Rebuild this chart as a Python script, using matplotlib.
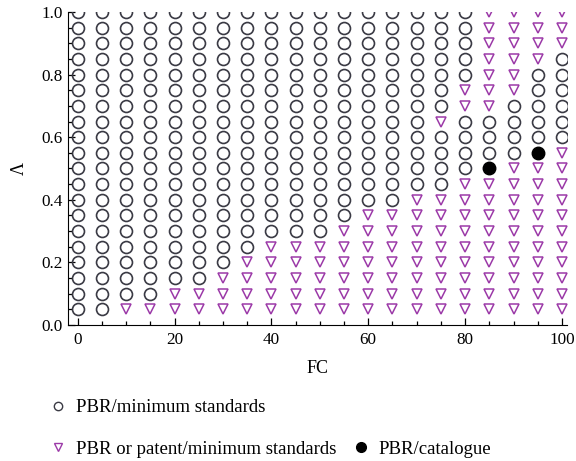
import matplotlib.pyplot as plt
from matplotlib.lines import Line2D
from matplotlib.ticker import MultipleLocator

plt.rcParams['font.family'] = ['Liberation Serif', 'DejaVu Serif']

# grid of cases: FC along x, Lambda along y
fc = [0, 5, 10, 15, 20, 25, 30, 35, 40, 45, 50, 55, 60, 65, 70, 75, 80, 85, 90, 95, 100]
lam = [1.0, 0.95, 0.9, 0.85, 0.8, 0.75, 0.7, 0.65, 0.6, 0.55,
       0.5, 0.45, 0.4, 0.35, 0.3, 0.25, 0.2, 0.15, 0.1, 0.05]

# o = PBR/minimum standards, v = PBR or patent/minimum standards, b = PBR/catalogue
# one row per lambda value (top to bottom), groups of 5 columns separated by |
regime = [
    "ooooo|ooooo|ooooo|oovvv|v",
    "ooooo|ooooo|ooooo|oovvv|v",
    "ooooo|ooooo|ooooo|oovvv|v",
    "ooooo|ooooo|ooooo|oovvv|o",
    "ooooo|ooooo|ooooo|oovvo|o",
    "ooooo|ooooo|ooooo|ovvvo|o",
    "ooooo|ooooo|ooooo|ovvoo|o",
    "ooooo|ooooo|ooooo|voooo|o",
    "ooooo|ooooo|ooooo|ooooo|o",
    "ooooo|ooooo|ooooo|oooob|v",
    "ooooo|ooooo|ooooo|oobvv|v",
    "ooooo|ooooo|ooooo|ovvvv|v",
    "ooooo|ooooo|oooov|vvvvv|v",
    "ooooo|ooooo|oovvv|vvvvv|v",
    "ooooo|ooooo|ovvvv|vvvvv|v",
    "ooooo|ooovv|vvvvv|vvvvv|v",
    "ooooo|oovvv|vvvvv|vvvvv|v",
    "ooooo|ovvvv|vvvvv|vvvvv|v",
    "oooov|vvvvv|vvvvv|vvvvv|v",
    "oovvv|vvvvv|vvvvv|vvvvv|v",
]

pts = {'o': ([], []), 'v': ([], []), 'b': ([], [])}
for y, row in zip(lam, regime):
    row = row.replace('|', '')
    for x, c in zip(fc, row):
        pts[c][0].append(x)
        pts[c][1].append(y)

circ_col = '#3a3a44'
tri_col = '#9c3aa8'

fig = plt.figure(figsize=(5.76, 4.61), dpi=100)
ax = fig.add_axes([0.118, 0.295, 0.866, 0.679])

ax.plot(*pts['o'], 'o', ms=8.6, mfc='none', mec=circ_col, mew=1.2)
ax.plot(*pts['v'], 'v', ms=6.8, mfc='none', mec=tri_col, mew=1.1)
ax.plot(*pts['b'], 'o', ms=9, mfc='black', mec='black')

ax.set_xlim(-2, 101)
ax.set_ylim(0, 1.0)
ax.xaxis.set_major_locator(MultipleLocator(20))
ax.xaxis.set_minor_locator(MultipleLocator(5))
ax.yaxis.set_major_locator(MultipleLocator(0.2))
ax.yaxis.set_minor_locator(MultipleLocator(0.05))
ax.set_yticklabels([f'{v:.1f}' for v in ax.get_yticks()])
ax.tick_params(which='both', direction='in', labelsize=12.3, width=0.9)
ax.tick_params(which='major', length=5)
ax.tick_params(axis='x', pad=5)
ax.tick_params(which='minor', length=3)
for s in ['top', 'right']:
    ax.spines[s].set_visible(False)
ax.set_xlabel('FC', fontsize=13, labelpad=9)
ax.set_ylabel('Λ', fontsize=13, labelpad=10)

handles = [
    Line2D([], [], ls='none', marker='o', ms=6, mfc='none', mec=circ_col, mew=1),
    Line2D([], [], ls='none', marker='v', ms=5.5, mfc='none', mec=tri_col, mew=1),
    Line2D([], [], ls='none', marker=None),
    Line2D([], [], ls='none', marker='o', ms=7, mfc='black', mec='black'),
]
labels = ['PBR/minimum standards', 'PBR or patent/minimum standards', '', 'PBR/catalogue']
fig.legend(handles, labels, ncol=2, loc='upper left', bbox_to_anchor=(0.072, 0.150),
           frameon=False, fontsize=13.5, handlelength=1.0, handletextpad=0.45,
           labelspacing=1.3, columnspacing=0.8, borderaxespad=0)

fig.savefig('out.png')
